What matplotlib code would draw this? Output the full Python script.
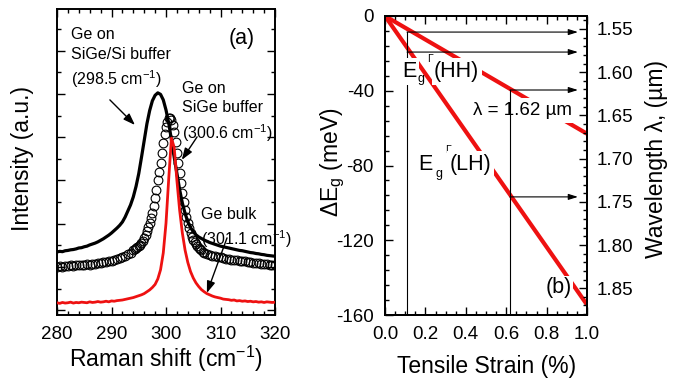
import numpy as np
import matplotlib
matplotlib.use("Agg")
import matplotlib.pyplot as plt
from matplotlib.ticker import FixedLocator, MultipleLocator, FormatStrFormatter

plt.rcParams['font.family'] = ['Liberation Sans', 'DejaVu Sans']
plt.rcParams['mathtext.fontset'] = 'custom'
plt.rcParams['mathtext.rm'] = 'Liberation Sans'
plt.rcParams['mathtext.it'] = 'Liberation Sans'
plt.rcParams['mathtext.default'] = 'regular'
plt.rcParams['axes.unicode_minus'] = False

# ---------------- data: panel (a) Raman spectra ----------------
raman_x = np.arange(280, 320.01, 0.5)
sige_si_buffer = [
    0.206, 0.208, 0.207, 0.210, 0.211, 0.213, 0.214, 0.216, 0.219, 0.220,
    0.223, 0.225, 0.229, 0.232, 0.235, 0.239, 0.244, 0.249, 0.255, 0.261,
    0.268, 0.276, 0.284, 0.293, 0.304, 0.320, 0.340, 0.360, 0.386, 0.420,
    0.462, 0.515, 0.570, 0.625, 0.668, 0.700, 0.718, 0.726, 0.721, 0.703,
    0.670, 0.627, 0.572, 0.516, 0.463, 0.410, 0.366, 0.332, 0.305, 0.286,
    0.272, 0.262, 0.255, 0.250, 0.245, 0.241, 0.237, 0.234, 0.231, 0.228,
    0.225, 0.223, 0.221, 0.219, 0.217, 0.215, 0.213, 0.211, 0.210, 0.208,
    0.206, 0.204, 0.203, 0.201, 0.200, 0.198, 0.197, 0.195, 0.194, 0.193,
    0.192]
ge_bulk = [
    0.040, 0.038, 0.041, 0.039, 0.040, 0.042, 0.039, 0.041, 0.040, 0.042,
    0.041, 0.040, 0.043, 0.041, 0.042, 0.044, 0.042, 0.043, 0.045, 0.043,
    0.046, 0.045, 0.047, 0.048, 0.049, 0.051, 0.053, 0.055, 0.057, 0.060,
    0.063, 0.066, 0.070, 0.076, 0.082, 0.090, 0.100, 0.118, 0.148, 0.203,
    0.300, 0.445, 0.578, 0.548, 0.440, 0.343, 0.268, 0.212, 0.172, 0.142,
    0.121, 0.105, 0.093, 0.083, 0.076, 0.070, 0.066, 0.062, 0.059, 0.057,
    0.055, 0.052, 0.051, 0.050, 0.048, 0.049, 0.046, 0.047, 0.045, 0.046,
    0.044, 0.045, 0.043, 0.044, 0.042, 0.043, 0.041, 0.043, 0.042, 0.041,
    0.042]
circ_x = np.concatenate([np.arange(280, 294, 0.5),
                         np.arange(294, 307, 0.25),
                         np.arange(307, 320.01, 0.5)])
sige_buffer = [
    0.157, 0.160, 0.158, 0.161, 0.159, 0.162, 0.160, 0.163, 0.162, 0.164,
    0.163, 0.166, 0.165, 0.167, 0.168, 0.170, 0.171, 0.173, 0.174, 0.177,
    0.178, 0.181, 0.183, 0.186, 0.189, 0.193, 0.198, 0.204,
    0.212, 0.215, 0.218, 0.221, 0.225, 0.230, 0.236, 0.243, 0.252, 0.262,
    0.273, 0.286, 0.300, 0.316, 0.334, 0.355, 0.383, 0.410, 0.440, 0.468,
    0.497, 0.530, 0.562, 0.590, 0.613, 0.632, 0.643, 0.644, 0.636, 0.620,
    0.597, 0.565, 0.530, 0.497, 0.464, 0.430, 0.398, 0.369, 0.343, 0.320,
    0.300, 0.283, 0.268, 0.256, 0.246, 0.238, 0.231, 0.225, 0.220, 0.215,
    0.211, 0.207,
    0.204, 0.200, 0.197, 0.194, 0.192, 0.189, 0.188, 0.186, 0.184, 0.183,
    0.181, 0.180, 0.179, 0.178, 0.176, 0.175, 0.174, 0.172, 0.171, 0.170,
    0.169, 0.168, 0.167, 0.166, 0.165, 0.164, 0.163]

# ---------------- data: panel (b) strain dependence ----------------
strain = [0.0, 1.0]
dE_HH = [0.0, -63.0]
dE_LH = [0.0, -154.5]
guide_strain = [0.109, 0.619]
guide_upper = [-8.6, -39.6]
guide_lower = [-19.3, -96.8]
arrow_end = 0.955
wl_ticks = [1.55, 1.60, 1.65, 1.70, 1.75, 1.80, 1.85]

# ---------------- figure ----------------
W, H = 679, 383
fig = plt.figure(figsize=(W / 100, H / 100), dpi=100)

def box(l, r, t, b):
    return [l / W, 1 - b / H, (r - l) / W, (b - t) / H]

tick_fs = 13.5
lab_fs = 16.5

# ---- panel (a)
ax1 = fig.add_axes(box(57, 275, 9, 315))
ax1.plot(raman_x, sige_si_buffer, color='black', lw=2.3, zorder=3)
ax1.plot(circ_x, sige_buffer, ls='none', marker='o', ms=6.3, mfc='none',
         mec='black', mew=0.8, zorder=2)
ax1.plot(raman_x, ge_bulk, color='#ee1111', lw=2.0, zorder=3)
ax1.set_xlim(280, 320)
ax1.set_ylim(0, 1)
ax1.xaxis.set_major_locator(MultipleLocator(10))
ax1.xaxis.set_minor_locator(MultipleLocator(2))
ax1.yaxis.set_major_locator(FixedLocator(np.arange(0.016, 1.0, 0.1412)))
ax1.yaxis.set_minor_locator(FixedLocator(np.arange(0.0866, 1.0, 0.1412)))
ax1.set_yticklabels([])
ax1.tick_params(which='both', direction='in', top=True, right=True, width=1.0,
                labelsize=tick_fs, pad=8)
ax1.tick_params(which='major', length=5.5)
ax1.tick_params(which='minor', length=3)
for s in ax1.spines.values():
    s.set_linewidth(1.4)

ann_fs = 11.5
ax1.text(282.6, 0.94, "Ge on\nSiGe/Si buffer\n(298.5 cm$^{-1}$)", fontsize=ann_fs,
         ha='left', va='top', linespacing=1.38)
ax1.text(302.9, 0.765, "Ge on\nSiGe buffer\n(300.6 cm$^{-1}$)", fontsize=ann_fs,
         ha='left', va='top', linespacing=1.38)
ax1.text(306.5, 0.352, "Ge bulk\n(301.1 cm$^{-1}$)", fontsize=ann_fs,
         ha='left', va='top', linespacing=1.38)
ax1.text(313.9, 0.905, "(a)", fontsize=15.5, ha='center', va='center')
aprops = dict(arrowstyle='-|>,head_length=0.7,head_width=0.25', color='black',
              lw=1.0, mutation_scale=10, shrinkA=0, shrinkB=0)
ax1.annotate("", xy=(294.3, 0.621), xytext=(289.7, 0.703), arrowprops=aprops)
ax1.annotate("", xy=(302.9, 0.507), xytext=(305.7, 0.582), arrowprops=aprops)
ax1.annotate("", xy=(307.5, 0.072), xytext=(311.2, 0.252), arrowprops=aprops)

fig.text(23 / W, 1 - 158 / H, "Intensity (a.u.)", rotation=90, ha='center',
         va='center', fontsize=lab_fs)
fig.text(166 / W, 1 - 359 / H, "Raman shift (cm$^{-1}$)", ha='center',
         va='center', fontsize=lab_fs)

# ---- panel (b)
ax2 = fig.add_axes(box(385, 587, 16, 315))
red = '#ee1111'
ax2.plot(strain, dE_HH, color=red, lw=3.0, zorder=2, solid_capstyle='butt')
ax2.plot(strain, dE_LH, color=red, lw=3.0, zorder=2, solid_capstyle='butt')
ax2.set_xlim(0, 1.0)
ax2.set_ylim(-160, 0)
ax2.xaxis.set_major_locator(MultipleLocator(0.2))
ax2.xaxis.set_minor_locator(MultipleLocator(0.05))
ax2.yaxis.set_major_locator(MultipleLocator(40))
ax2.yaxis.set_minor_locator(MultipleLocator(8))
ax2.xaxis.set_major_formatter(FormatStrFormatter('%.1f'))
ax2.tick_params(which='both', direction='in', top=True, right=False, width=1.0,
                labelsize=tick_fs, pad=8)
ax2.tick_params(which='major', length=5.5)
ax2.tick_params(which='minor', length=3)
for s in ax2.spines.values():
    s.set_linewidth(1.4)

# guide lines and arrows
gprops = dict(arrowstyle='-|>,head_length=0.7,head_width=0.22', color='black',
              lw=0.8, mutation_scale=8, shrinkA=0, shrinkB=0)
for xs, yu, yl in zip(guide_strain, guide_upper, guide_lower):
    ax2.plot([xs, xs], [yu, -160], color='black', lw=0.8, zorder=4)
    ax2.annotate("", xy=(arrow_end, yu), xytext=(xs, yu), arrowprops=gprops,
                 zorder=4)
    ax2.annotate("", xy=(arrow_end, yl), xytext=(xs, yl), arrowprops=gprops,
                 zorder=4)

wbox = dict(boxstyle='square,pad=0.12', fc='white', ec='none')
lab_big = 15.5
# E_g^Gamma(HH)
ax2.text(0.084, -32.6, "E", fontsize=lab_big, ha='left', va='baseline',
         bbox=wbox, zorder=5)
ax2.text(0.163, -35.3, "g", fontsize=9, ha='left', va='baseline', zorder=5)
ax2.text(0.208, -24.6, "Γ", fontsize=7.5, ha='left', va='baseline', zorder=5)
ax2.text(0.243, -32.6, "(HH)", fontsize=lab_big, ha='left', va='baseline',
         bbox=wbox, zorder=5)
# E_g^Gamma(LH)
ax2.text(0.163, -82.4, "E", fontsize=lab_big, ha='left', va='baseline',
         bbox=wbox, zorder=5)
ax2.text(0.248, -86.1, "g", fontsize=9, ha='left', va='baseline', zorder=5)
ax2.text(0.297, -73.3, "Γ", fontsize=7.5, ha='left', va='baseline', zorder=5)
ax2.text(0.322, -82.4, "(LH)", fontsize=lab_big, ha='left', va='baseline',
         bbox=wbox, zorder=5)
# lambda label
ax2.text(0.436, -53.0, "λ = 1.62 µm", fontsize=13.5, ha='left', va='baseline',
         bbox=dict(boxstyle='square,pad=0.2', fc='white', ec='none'), zorder=3)
ax2.text(0.861, -145.5, "(b)", fontsize=lab_big, ha='center', va='center',
         bbox=dict(boxstyle='square,pad=0.05', fc='white', ec='none'), zorder=5)

# wavelength axis
ax3 = ax2.twinx()
ax3.set_ylim(1.881, 1.535)
ax3.yaxis.set_major_locator(FixedLocator(wl_ticks))
ax3.yaxis.set_minor_locator(MultipleLocator(0.01))
ax3.yaxis.set_major_formatter(FormatStrFormatter('%.2f'))
ax3.tick_params(which='both', direction='in', width=1.0, labelsize=tick_fs, pad=7)
ax3.tick_params(which='major', length=5.5)
ax3.tick_params(which='minor', length=3)
for s in ax3.spines.values():
    s.set_linewidth(1.4)

fig.text(333 / W, 1 - 162 / H, "ΔE$_g$ (meV)", rotation=90, ha='center',
         va='center', fontsize=lab_fs)
fig.text(487 / W, 1 - 366 / H, "Tensile Strain (%)", ha='center', va='center',
         fontsize=lab_fs)
fig.text(656 / W, 1 - 159 / H, "Wavelength λ, (µm)", rotation=90, ha='center',
         va='center', fontsize=lab_fs)

fig.savefig("out.png", dpi=100)
